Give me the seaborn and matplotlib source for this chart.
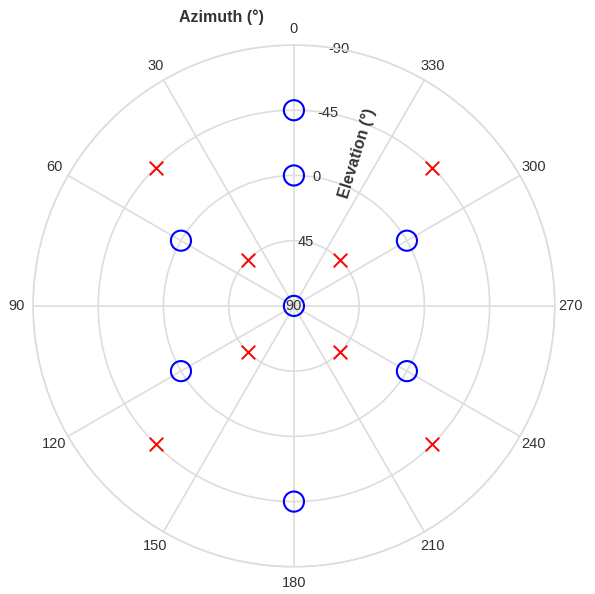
import matplotlib

matplotlib.use("Agg")
import matplotlib.pyplot as plt
import numpy as np
import pandas as pd
import seaborn as sns

# blue open circles
circle_az = [0, 0, 60, 120, 180, 240, 300, 0]
circle_el = [-45, 0, 0, 0, -45, 0, 0, 90]

# red crosses
cross_az = [45, 135, 225, 315, 45, 135, 225, 315]
cross_el = [-45, -45, -45, -45, 45, 45, 45, 45]

az_ticks = list(range(0, 360, 30))
el_ticks = [-90, -45, 0, 45, 90]

sns.set_theme(style="white")
plt.rcParams["font.family"] = ["Liberation Sans", "DejaVu Sans"]

circles = pd.DataFrame({"theta": np.deg2rad(circle_az), "el": circle_el})
crosses = pd.DataFrame({"theta": np.deg2rad(cross_az), "el": cross_el})

fig = plt.figure(figsize=(5.95, 5.94), dpi=100)
ax = fig.add_axes([0.0555, 0.0455, 0.877, 0.879], projection="polar")
ax.set_theta_zero_location("N")
ax.set_theta_direction(1)

sns.scatterplot(data=circles, x="theta", y="el", ax=ax, marker="o", s=210,
                facecolors="none", edgecolor="blue", linewidth=1.5, zorder=3)
sns.scatterplot(data=crosses, x="theta", y="el", ax=ax, marker="x", s=95,
                color="red", linewidth=1.4, zorder=3)

ax.set_rlim(90, -90)
ax.set_xticks(np.deg2rad(az_ticks))
ax.set_xticklabels([str(a) for a in az_ticks], color="#333333", fontsize=10.5)
ax.tick_params(axis="x", pad=-1.5)
ax.set_yticks(el_ticks)
ax.set_yticklabels([str(e) for e in el_ticks], color="#333333", fontsize=10.5,
                   ha="center", va="center")
ax.set_rlabel_position(-10)
ax.grid(True, color="#dddddd", linewidth=1.2)
ax.spines["polar"].set_color("#dddddd")
ax.spines["polar"].set_linewidth(1.2)
ax.set_xlabel("")
ax.set_ylabel("")

fig.text(221 / 595, 1 - 17 / 594, "Azimuth (°)", fontsize=11.5, fontweight="bold",
         color="#333333", ha="center", va="center")
fig.text(357 / 595, 1 - 153 / 594, "Elevation (°)", fontsize=11.5, fontweight="bold",
         color="#333333", ha="center", va="center", rotation=73)

fig.savefig("out.png", dpi=100)
